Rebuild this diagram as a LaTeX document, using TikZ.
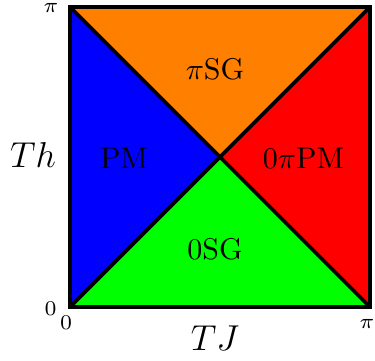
\documentclass[tikz,border=0pt]{standalone}
\definecolor{cblue}{RGB}{0,0,255}
\definecolor{corange}{RGB}{255,128,0}
\definecolor{cred}{RGB}{255,0,0}
\definecolor{cgreen}{RGB}{0,255,0}
\tikzset{phasediag/.style={x=0.3333pt,y=0.3333pt,font=\normalsize},
  ticklab/.style={font=\scriptsize,inner sep=0pt}}

\begin{document}
\begin{tikzpicture}[phasediag]
    \def\a{300}
    \useasboundingbox (-70,-53) rectangle (305,307);
    \fill[cblue]   (0,0) -- (0,\a) -- ({\a/2},{\a/2}) -- cycle;
    \fill[corange] (0,\a) -- (\a,\a) -- ({\a/2},{\a/2}) -- cycle;
    \fill[cred]    (\a,\a) -- (\a,0) -- ({\a/2},{\a/2}) -- cycle;
    \fill[cgreen]  (0,0) -- (\a,0) -- ({\a/2},{\a/2}) -- cycle;
    \draw[line width=1.2pt] (0,0) -- (\a,\a);
    \draw[line width=1.2pt] (0,\a) -- (\a,0);
    \draw[line width=1.6pt] (0,0) rectangle (\a,\a);
    % axis ticks
    \node[ticklab] (ypi) at (-19,299) {$\pi$};
    \node[ticklab] (yzero) at (-19.5,-2) {$0$};
    \node[ticklab] (xzero) at (-4,-16) {$0$};
    \node[ticklab] (xpi) at (297,-17) {$\pi$};
    \node[font=\large] (xlab) at (145,-31) {$TJ$};
    \node[font=\large] (ylab) at (-37,152) {$Th$};
    % phases
    \node (pm) at (54,149) {PM};
    \node (zpipm) at (233.5,149) {$0\pi$PM};
    \node (pisg) at (145,238) {$\pi$SG};
    \node (zsg) at (145,58) {0SG};
\end{tikzpicture}
\end{document}
